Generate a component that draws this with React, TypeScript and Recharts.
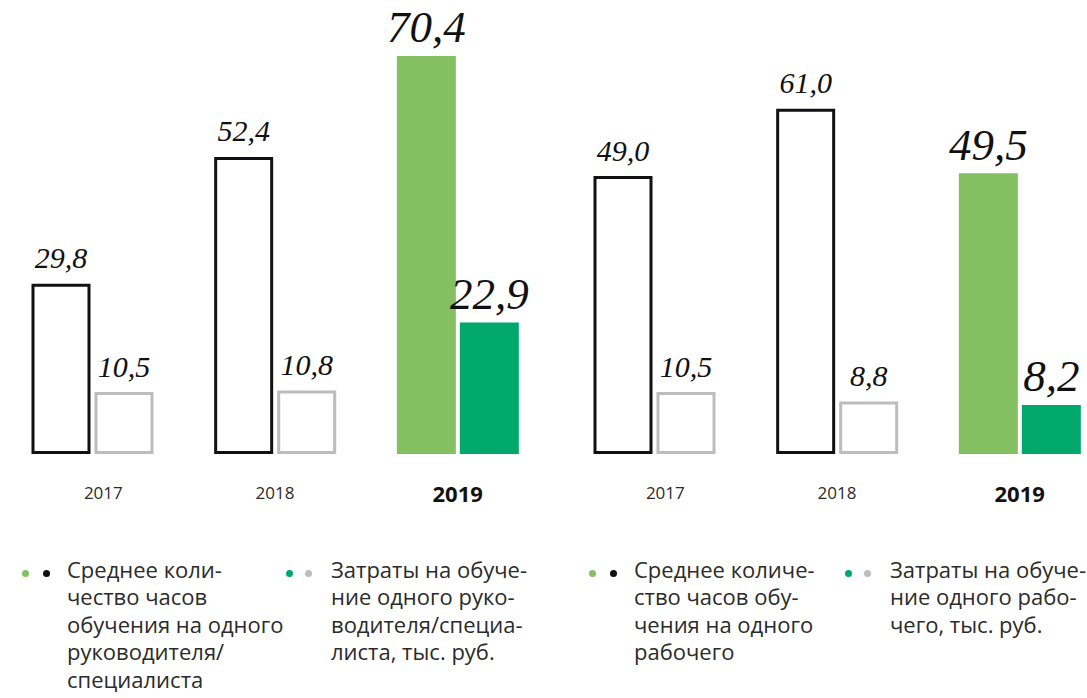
import { BarChart, Bar, XAxis, YAxis, Cell, LabelList } from 'recharts';

const years = ['2017', '2018', '2019'];
const hoursManagers = [29.8, 52.4, 70.4];
const costManagers = [10.5, 10.8, 22.9];
const hoursWorkers = [49.0, 61.0, 49.5];
const costWorkers = [10.5, 8.8, 8.2];

const legendHoursManagers = ['Среднее коли-', 'чество часов', 'обучения на одного', 'руководителя/', 'специалиста'];
const legendCostManagers = ['Затраты на обуче-', 'ние одного руко-', 'водителя/специа-', 'листа, тыс. руб.'];
const legendHoursWorkers = ['Среднее количе-', 'ство часов обу-', 'чения на одного', 'рабочего'];
const legendCostWorkers = ['Затраты на обуче-', 'ние одного рабо-', 'чего, тыс. руб.'];

const LIGHT_GREEN = '#84bf62';
const GREEN = '#00a86b';
const OUTLINE = '#111111';
const GRAY = '#bdbdbd';
const TEXT = '#2b2b2b';
const SANS = '"Open Sans", "Noto Sans", sans-serif';
const SERIF = '"Liberation Serif", "DejaVu Serif", serif';

const fmt = (v: number) => v.toFixed(1).replace('.', ',');

function YearTick(props: any) {
  const { x, y, payload, index } = props;
  const current = payload.value === '2019';
  return (
    <text
      x={x + (index === 0 ? 11 : 0)}
      y={y + (current ? 49 : 46.5)}
      textAnchor="middle"
      fill={current ? '#111' : TEXT}
      fontFamily={SANS}
      fontSize={current ? 22 : 17}
      fontWeight={current ? 700 : 400}
    >
      {payload.value}
    </text>
  );
}

function ValueLabel(props: any) {
  const { x, y, width, value, index } = props;
  const big = index === 2;
  return (
    <text
      x={Number(x) + Number(width) / 2}
      y={Number(y) - (big ? 15 : 17)}
      textAnchor="middle"
      fontFamily={SERIF}
      fontStyle="italic"
      fontSize={big ? 45 : 30}
      fill="#111"
    >
      {fmt(Number(value))}
    </text>
  );
}

function Panel({ left, hours, cost }: { left: number; hours: number[]; cost: number[] }) {
  const data = years.map((year, i) => ({ year, hours: hours[i], cost: cost[i] }));
  return (
    <div style={{ position: 'absolute', left, top: 0 }}>
      <BarChart
        width={549}
        height={530}
        data={data}
        margin={{ top: 26, right: 0, bottom: 0, left: 1 }}
        barSize={56}
        barGap={7}
      >
        <XAxis
          dataKey="year"
          axisLine={false}
          tickLine={false}
          tickSize={0}
          tickMargin={0}
          height={77.5}
          interval={0}
          tick={(p: any) => <YearTick {...p} />}
        />
        <YAxis hide domain={[0, 76]} />
        <Bar dataKey="hours" isAnimationActive={false} strokeWidth={3}>
          {data.map((d, i) => (
            <Cell key={d.year} fill={i === 2 ? LIGHT_GREEN : '#fff'} stroke={i === 2 ? LIGHT_GREEN : OUTLINE} />
          ))}
          <LabelList dataKey="hours" content={(p: any) => <ValueLabel {...p} />} />
        </Bar>
        <Bar dataKey="cost" isAnimationActive={false} strokeWidth={3}>
          {data.map((d, i) => (
            <Cell key={d.year} fill={i === 2 ? GREEN : '#fff'} stroke={i === 2 ? GREEN : GRAY} />
          ))}
          <LabelList dataKey="cost" content={(p: any) => <ValueLabel {...p} />} />
        </Bar>
      </BarChart>
    </div>
  );
}

function LegendItem({ left, gap, dots, lines }: { left: number; gap: number; dots: string[]; lines: string[] }) {
  return (
    <div style={{ position: 'absolute', left, top: 0 }}>
      {dots.map((c, i) => (
        <div
          key={i}
          style={{
            position: 'absolute',
            left: i * gap - 3.5,
            top: 569.5,
            width: 7,
            height: 7,
            borderRadius: 3.5,
            background: c,
          }}
        />
      ))}
      <div
        style={{
          position: 'absolute',
          left: 42,
          top: 555.5,
          fontFamily: SANS,
          fontSize: 22,
          lineHeight: '27.5px',
          color: TEXT,
          whiteSpace: 'nowrap',
        }}
      >
        {lines.map((l) => (
          <div key={l}>{l}</div>
        ))}
      </div>
    </div>
  );
}

export default function App() {
  return (
    <div
      style={{
        position: 'absolute',
        left: 0,
        top: 0,
        width: 1087,
        height: 698,
        overflow: 'hidden',
        background: '#fff',
      }}
    >
      <Panel left={0} hours={hoursManagers} cost={costManagers} />
      <Panel left={562} hours={hoursWorkers} cost={costWorkers} />
      <LegendItem left={25} gap={21} dots={[LIGHT_GREEN, OUTLINE]} lines={legendHoursManagers} />
      <LegendItem left={289} gap={19} dots={[GREEN, GRAY]} lines={legendCostManagers} />
      <LegendItem left={592} gap={21} dots={[LIGHT_GREEN, OUTLINE]} lines={legendHoursWorkers} />
      <LegendItem left={848} gap={19} dots={[GREEN, GRAY]} lines={legendCostWorkers} />
    </div>
  );
}
